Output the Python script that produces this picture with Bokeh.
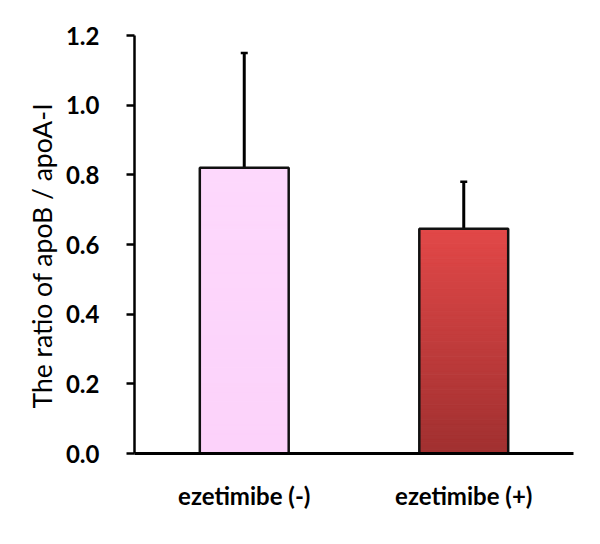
from bokeh.plotting import figure
from bokeh.models import Whisker, TeeHead, ColumnDataSource, FixedTicker, Title
from bokeh.embed import file_html
from bokeh.resources import INLINE

categories = ["ezetimibe (-)", "ezetimibe (+)"]
values = [0.82, 0.645]
errors = [0.33, 0.135]
y_ticks = [0.0, 0.2, 0.4, 0.6, 0.8, 1.0, 1.2]
y_title = "The ratio of apoB / apoA-I"

# gradient colours (top, bottom) per bar
grad = [((253, 216, 252), (252, 210, 250)), ((226, 72, 72), (160, 48, 48))]

p = figure(x_range=categories, y_range=(0, 1.2), width=584, height=528,
           output_backend="svg", toolbar_location=None,
           min_border_left=134, min_border_right=11, min_border_top=35, min_border_bottom=75)
p.outline_line_color = None
p.grid.visible = False
p.x_range.range_padding = 0

bw = 0.405
n = 60
xs, bots, tops, cols = [], [], [], []
for c, v, (ct, cb) in zip(categories, values, grad):
    for i in range(n):
        f = (i + 0.5) / n
        r = [int(round(cb[k] + (ct[k] - cb[k]) * f)) for k in range(3)]
        xs.append(c)
        bots.append(v * i / n)
        tops.append(v * (i + 1) / n)
        cols.append("#%02x%02x%02x" % tuple(r))
p.vbar(x=xs, bottom=bots, top=tops, width=bw, fill_color=cols, line_color=cols, line_width=1)

src = ColumnDataSource(dict(x=categories, top=values,
                            upper=[v + e for v, e in zip(values, errors)]))
p.add_layout(Whisker(source=src, base="x", upper="upper", lower="top",
                     lower_head=None,
                     upper_head=TeeHead(size=7, line_width=2.5, line_color="black"),
                     line_width=3, line_color="black"))
p.vbar(x="x", top="top", width=bw, source=src, fill_color=None,
       line_color="#111111", line_width=2.5)

p.add_layout(Title(text=y_title, align="left", offset=45,
                   text_font="Lato", text_font_size="26.5px", text_font_style="normal",
                   text_color="black", standoff=10), "left")

p.yaxis.ticker = FixedTicker(ticks=y_ticks)
p.yaxis.major_label_overrides = {t: "%.1f" % t for t in y_ticks}
p.yaxis.major_label_text_font = "Lato"
p.yaxis.major_label_text_font_size = "24px"
p.yaxis.major_label_text_font_style = "bold"
p.yaxis.major_label_text_color = "black"
p.yaxis.major_label_standoff = 27
p.yaxis.major_tick_out = 8
p.yaxis.major_tick_in = 0
p.yaxis.minor_tick_line_color = None
p.yaxis.major_tick_line_width = 2.5
p.yaxis.axis_line_width = 2.5
p.yaxis.axis_line_color = "black"
p.yaxis.major_tick_line_color = "black"

p.xaxis.major_tick_line_color = None
p.xaxis.minor_tick_line_color = None
p.xaxis.major_tick_out = 0
p.xaxis.axis_line_width = 3
p.xaxis.axis_line_color = "black"
p.xaxis.major_label_text_font = "Lato"
p.xaxis.major_label_text_font_size = "24px"
p.xaxis.major_label_text_font_style = "bold"
p.xaxis.major_label_text_color = "black"
p.xaxis.major_label_standoff = 27

open("out.html", "w").write(file_html(p, INLINE))
